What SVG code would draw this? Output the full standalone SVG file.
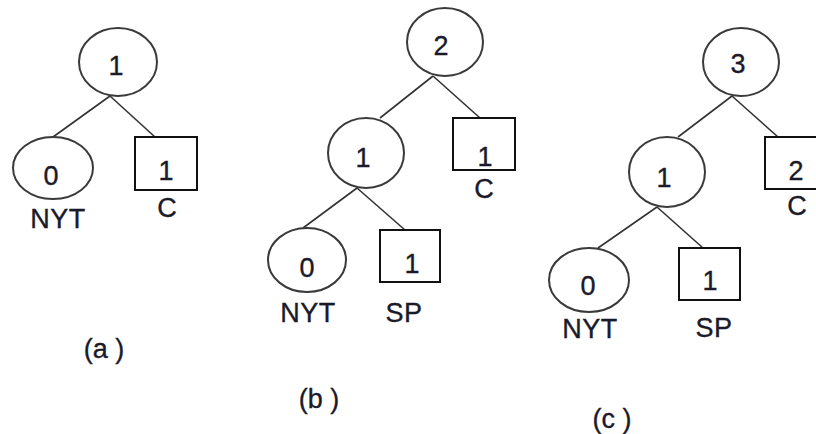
<svg xmlns="http://www.w3.org/2000/svg" width="816" height="434" viewBox="0 0 816 434">
<style>
  .bg{fill:#ffffff}
  .ell{fill:#ffffff;stroke:#3a3a3a;stroke-width:2}
  .box{fill:#ffffff;stroke:#111111;stroke-width:2}
  .edge{stroke:#333333;stroke-width:1.6;fill:none}
  text{font-family:"Liberation Sans",Arial,sans-serif;font-size:27px;fill:#1a1a2a;stroke:#1a1a2a;stroke-width:0.35;text-anchor:middle}
  .lbl{letter-spacing:0.5px}
</style>
<rect class="bg" x="0" y="0" width="816" height="434"/>
<g id="connectors">
  <line class="edge" x1="110" y1="96" x2="53" y2="137"/>
  <line class="edge" x1="110" y1="96" x2="155" y2="137"/>
  <line class="edge" x1="433" y1="76" x2="380" y2="118"/>
  <line class="edge" x1="433" y1="76" x2="480" y2="118"/>
  <line class="edge" x1="357" y1="188" x2="303" y2="228"/>
  <line class="edge" x1="357" y1="188" x2="405" y2="230"/>
  <line class="edge" x1="732" y1="96" x2="678" y2="137"/>
  <line class="edge" x1="732" y1="96" x2="778" y2="137"/>
  <line class="edge" x1="657" y1="207" x2="598" y2="248"/>
  <line class="edge" x1="657" y1="207" x2="703" y2="248"/>
</g>
<g id="a-root"><ellipse class="ell" cx="118" cy="62" rx="39" ry="34"/><text x="116" y="75">1</text></g>
<g id="a-nyt"><ellipse class="ell" cx="53" cy="168" rx="40" ry="31"/><text x="51" y="185">0</text><text class="lbl" x="58" y="228">NYT</text></g>
<g id="a-c"><rect class="box" x="135" y="137" width="62" height="53"/><text x="166" y="180">1</text><text x="167" y="217">C</text></g>
<text x="104" y="358">(a )</text>

<g id="b-root"><ellipse class="ell" cx="445" cy="42" rx="38" ry="34"/><text x="441" y="55">2</text></g>
<g id="b-mid"><ellipse class="ell" cx="366" cy="153" rx="38" ry="35"/><text x="363" y="167">1</text></g>
<g id="b-c"><rect class="box" x="453" y="118" width="62" height="52"/><text x="485" y="166">1</text><text x="484" y="198">C</text></g>
<g id="b-nyt"><ellipse class="ell" cx="307" cy="260" rx="39" ry="32"/><text x="307" y="277">0</text><text class="lbl" x="308" y="322">NYT</text></g>
<g id="b-sp"><rect class="box" x="380" y="230" width="60" height="52"/><text x="412" y="273">1</text><text class="lbl" x="404" y="322">SP</text></g>
<text x="319" y="408">(b )</text>

<g id="c-root"><ellipse class="ell" cx="741" cy="62" rx="38" ry="34"/><text x="738" y="73">3</text></g>
<g id="c-mid"><ellipse class="ell" cx="667" cy="172" rx="38" ry="35"/><text x="664" y="187">1</text></g>
<g id="c-c"><rect class="box" x="765" y="137" width="62" height="52"/><text x="796" y="180">2</text><text x="797" y="215">C</text></g>
<g id="c-nyt"><ellipse class="ell" cx="589" cy="280" rx="40" ry="32"/><text x="588" y="295">0</text><text class="lbl" x="590" y="338">NYT</text></g>
<g id="c-sp"><rect class="box" x="679" y="248" width="61" height="52"/><text x="710" y="290">1</text><text class="lbl" x="714" y="337">SP</text></g>
<text x="612" y="428">(c )</text>
</svg>
